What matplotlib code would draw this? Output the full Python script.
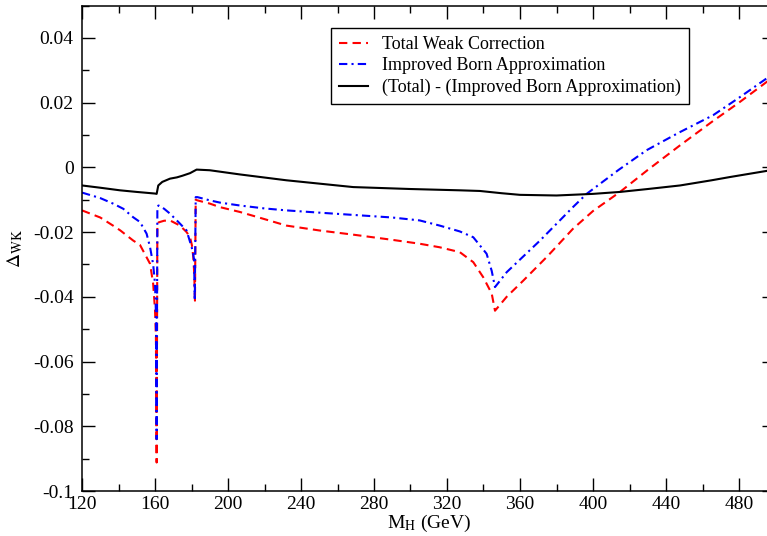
import matplotlib
matplotlib.use("Agg")
import matplotlib.pyplot as plt
from matplotlib.ticker import MultipleLocator, FuncFormatter

# -------------------------------
# Data
# -------------------------------
total_mh = [120, 130, 137, 141, 148, 151.8, 155.4, 157.3, 159, 160.0, 160.5, 160.9,
            161.3, 162, 165, 168.2, 173.7, 177.3, 179.2, 180.2, 181.0, 181.5, 181.9,
            182.3, 183.2, 190, 195.6, 206.6, 220, 232, 250, 268.6, 290, 305, 316,
            327, 334.4, 339.9, 344.5, 346.3, 352.7, 361.8, 375, 389, 400, 414.8,
            430, 447.7, 465, 480, 495.2, 500]
total_wk = [-0.0133, -0.0155, -0.018, -0.0195, -0.0226, -0.0240, -0.0278, -0.0298,
            -0.036, -0.044, -0.052, -0.0912,
            -0.0175, -0.0170, -0.0165, -0.0164, -0.018, -0.0200, -0.0216, -0.0240,
            -0.0278, -0.033, -0.0412,
            -0.0100, -0.0102, -0.0112, -0.0123, -0.0138, -0.0160, -0.018, -0.0195,
            -0.0208, -0.0224, -0.0236, -0.0247, -0.0262, -0.0293, -0.034, -0.039,
            -0.0443, -0.0400, -0.035, -0.0275, -0.019, -0.0135, -0.0076, -0.0008,
            0.0068, 0.0140, 0.0200, 0.0264, 0.0284]

born_mh = [120, 130, 137, 142.6, 148, 151.8, 155.4, 157.3, 159, 160.0, 160.5, 160.9,
           161.3, 162, 165, 168.2, 173, 177.3, 180.1, 181.0, 181.4, 181.8,
           182.3, 183.2, 190, 195.6, 206.6, 220, 232, 250, 268.6, 290, 305, 316,
           327, 334.4, 341.7, 344.5, 346.3, 352.7, 371, 389, 396.5, 414, 429.4,
           447, 465.8, 480, 495.2, 500]
born_wk = [-0.0078, -0.0095, -0.0112, -0.0128, -0.0154, -0.0169, -0.0205, -0.0247,
           -0.030, -0.036, -0.045, -0.084,
           -0.0120, -0.0118, -0.0128, -0.0143, -0.0170, -0.0195, -0.0247, -0.0270,
           -0.0288, -0.0412,
           -0.0092, -0.0092, -0.0102, -0.0109, -0.0118, -0.0127, -0.0133, -0.0140,
           -0.0147, -0.0155, -0.0164, -0.018, -0.0198, -0.0216, -0.0267, -0.032,
           -0.037, -0.0324, -0.0226, -0.0123, -0.0082, -0.0008, 0.0053, 0.0107,
           0.0161, 0.0215, 0.0275, 0.0294]

diff_mh = [120, 130, 140.8, 150, 160, 160.9, 161.8, 164, 168.2, 172, 175, 179.2,
           182.8, 190, 206.6, 232, 268.6, 300, 327, 338, 350, 360, 380, 400,
           414.8, 430, 447.7, 465, 475, 495.2, 500]
diff_wk = [-0.0056, -0.0063, -0.0071, -0.0076, -0.0081, -0.0082, -0.0056, -0.0045,
           -0.0035, -0.0031, -0.0026, -0.0018, -0.0007, -0.0009, -0.0022, -0.0040,
           -0.0061, -0.0067, -0.0071, -0.0073, -0.0080, -0.0085, -0.0087, -0.0082,
           -0.0076, -0.0067, -0.0056, -0.0040, -0.0030, -0.0011, -0.0008]

labels = ["Total Weak Correction",
          "Improved Born Approximation",
          "(Total) - (Improved Born Approximation)"]


def fmt_y(v, pos):
    if abs(v) < 1e-9:
        return "0"
    return f"{round(v, 4):g}"


def main():
    plt.rcParams['font.family'] = ['Liberation Serif', 'DejaVu Serif']
    plt.rcParams['mathtext.fontset'] = 'stix'

    fig = plt.figure(figsize=(7.67, 5.36), dpi=100)
    W, H = 767, 536
    ax = fig.add_axes([82 / W, (H - 491) / H, 693.5 / W, 485.5 / H])

    ax.plot(total_mh, total_wk, color='red', lw=1.5, dashes=(4, 2.5),
            label=labels[0])
    ax.plot(born_mh, born_wk, color='blue', lw=1.5, dashes=(4, 2, 1, 2),
            label=labels[1])
    ax.plot(diff_mh, diff_wk, color='black', lw=1.5, label=labels[2])

    ax.set_xlim(120, 500)
    ax.set_ylim(-0.1, 0.05)

    ax.xaxis.set_major_locator(MultipleLocator(40))
    ax.xaxis.set_minor_locator(MultipleLocator(20))
    ax.yaxis.set_major_locator(MultipleLocator(0.02))
    ax.yaxis.set_minor_locator(MultipleLocator(0.01))
    ax.yaxis.set_major_formatter(FuncFormatter(fmt_y))

    ax.tick_params(which='both', direction='in', top=True, right=True,
                   width=1.0, labelsize=14)
    ax.tick_params(which='major', length=9.5)
    ax.tick_params(which='minor', length=5)
    ax.tick_params(axis='y', pad=6)
    ax.tick_params(axis='x', pad=3.5)
    for s in ax.spines.values():
        s.set_linewidth(1.1)

    ax.set_xlabel(r"M$_{\rm H}$ (GeV)", fontsize=14, labelpad=0)
    ax.set_ylabel(r"$\Delta_{\rm WK}$", fontsize=14, labelpad=6)

    leg = ax.legend(loc='upper left', bbox_to_anchor=(0.359, 0.954),
                    borderaxespad=0, fontsize=13, handlelength=1.6,
                    handletextpad=0.8, labelspacing=0.25, fancybox=False,
                    framealpha=1, edgecolor='black', borderpad=0.45)
    leg.get_frame().set_linewidth(1.0)

    fig.savefig("out.png", dpi=100)


if __name__ == "__main__":
    main()
